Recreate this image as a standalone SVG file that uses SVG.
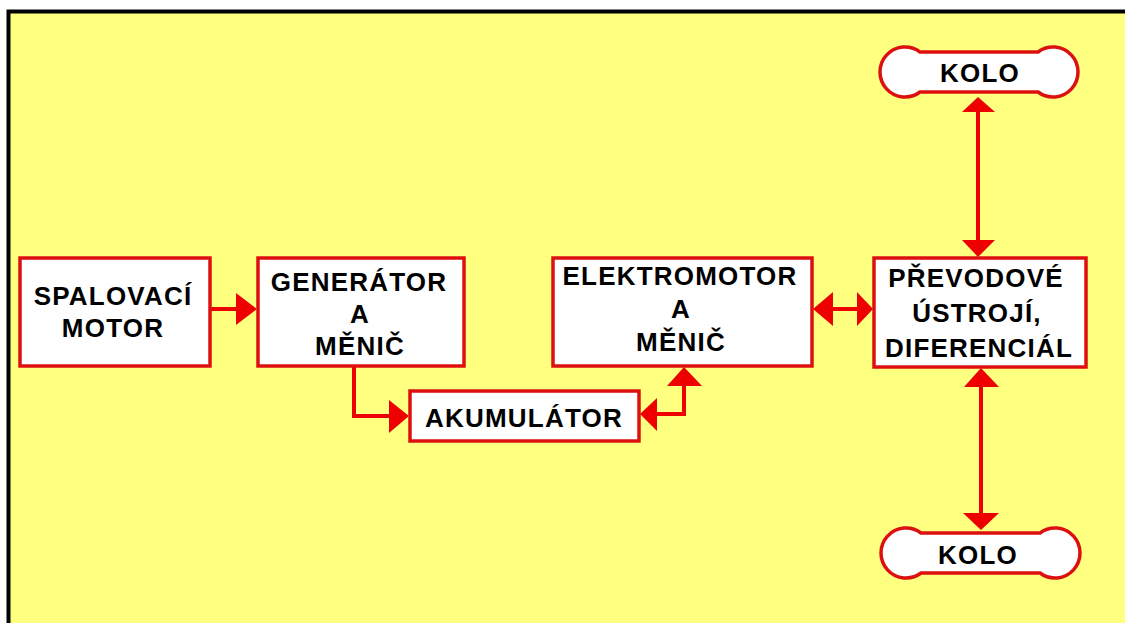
<svg xmlns="http://www.w3.org/2000/svg" width="1125" height="623" viewBox="0 0 1125 623">
<style>
.box{fill:#fff;stroke:#dd1010;stroke-width:3.5}
.t{font-family:"Liberation Sans",Arial,sans-serif;font-weight:bold;font-size:26px;letter-spacing:1.2px;fill:#000;text-anchor:middle}
.ln{fill:none;stroke:#ee0000;stroke-width:4}
.hd{fill:#ee0000}
</style>
<rect x="0" y="0" width="1125" height="623" fill="#fff"/>
<rect x="9" y="12" width="1116" height="611" fill="#ffff80"/>
<path d="M8.5 623 V11.5 H1125" fill="none" stroke="#000" stroke-width="4"/>
<g id="connectors">
<line class="ln" x1="211" y1="309" x2="237" y2="309"/>
<polygon class="hd" points="236,293 257,309 236,325"/>
<polyline class="ln" points="354,367 354,416 390,416"/>
<polygon class="hd" points="389,400 409,416 389,433"/>
<polyline class="ln" points="656,414 684,414 684,385"/>
<polygon class="hd" points="657,398 640,414 657,431"/>
<polygon class="hd" points="667,386 684,367 702,386"/>
<line class="ln" x1="832" y1="309" x2="858" y2="309"/>
<polygon class="hd" points="833,292 813,309 833,326"/>
<polygon class="hd" points="857,292 873,309 857,326"/>
<line class="ln" x1="978" y1="111" x2="978" y2="241"/>
<polygon class="hd" points="962,112 978,97 995,112"/>
<polygon class="hd" points="962,240 978,257 995,240"/>
<line class="ln" x1="981" y1="386" x2="981" y2="514"/>
<polygon class="hd" points="964,387 981,368 999,387"/>
<polygon class="hd" points="963,513 981,530 999,513"/>
</g>
<g id="spalovaci">
<rect class="box" x="20" y="258" width="190" height="108"/>
<text class="t" x="113" y="305">SPALOVACÍ</text>
<text class="t" x="113" y="337">MOTOR</text>
</g>
<g id="generator">
<rect class="box" x="258" y="258" width="206" height="108"/>
<text class="t" x="359" y="291">GENERÁTOR</text>
<text class="t" x="360" y="323">A</text>
<text class="t" x="360" y="355">MĚNIČ</text>
</g>
<g id="akumulator">
<rect class="box" x="410" y="391" width="229" height="50"/>
<text class="t" x="524" y="427">AKUMULÁTOR</text>
</g>
<g id="elektromotor">
<rect class="box" x="553" y="258" width="259" height="108"/>
<text class="t" x="680" y="285">ELEKTROMOTOR</text>
<text class="t" x="681" y="318">A</text>
<text class="t" x="681" y="351">MĚNIČ</text>
</g>
<g id="prevodove">
<rect class="box" x="874" y="258" width="212" height="109"/>
<text class="t" x="976" y="287">PŘEVODOVÉ</text>
<text class="t" x="977" y="322">ÚSTROJÍ,</text>
<text class="t" x="979" y="357">DIFERENCIÁL</text>
</g>
<g id="kolo-top">
<path class="box" d="M920 52 H1038 A25 25 0 1 1 1038 92 H920 A25 25 0 1 1 920 52 Z"/>
<text class="t" x="980" y="82">KOLO</text>
</g>
<g id="kolo-bottom">
<path class="box" d="M921 533 H1040 A25 25 0 1 1 1040 573 H921 A25 25 0 1 1 921 533 Z"/>
<text class="t" x="978" y="564">KOLO</text>
</g>
</svg>
